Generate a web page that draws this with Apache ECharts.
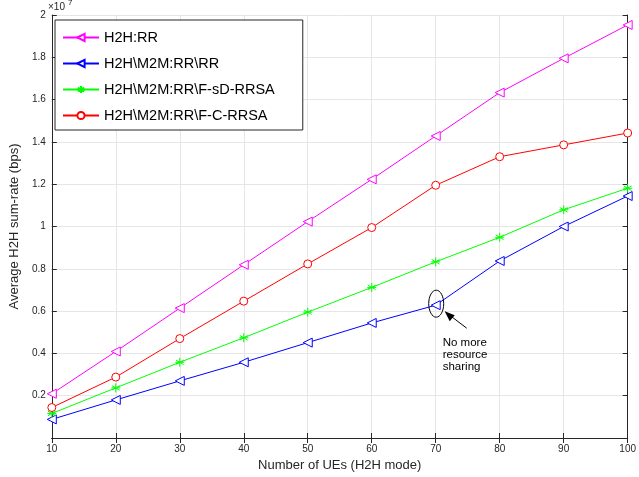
<!DOCTYPE html>
<html><head><meta charset="utf-8">
<script src="https://cdn.jsdelivr.net/npm/echarts@6/dist/echarts.min.js"></script>
<style>html,body{margin:0;padding:0;background:#fff}#c{width:639px;height:477px}</style>
</head><body><div id="c"></div>
<script>
const categories = [10,20,30,40,50,60,70,80,90,100];
const h2hRR = [0.209,0.409,0.614,0.819,1.023,1.223,1.428,1.633,1.795,1.953];
const m2mRR = [0.088,0.180,0.270,0.358,0.451,0.544,0.628,0.837,1.000,1.144];
const fsdRRSA = [0.116,0.237,0.358,0.474,0.595,0.712,0.833,0.949,1.079,1.181];
const fcRRSA = [0.144,0.288,0.470,0.647,0.823,0.995,1.195,1.330,1.386,1.442];
const yTicks = [0.2,0.4,0.6,0.8,1,1.2,1.4,1.6,1.8,2];
const seriesNames = ['H2H:RR','H2H\\M2M:RR\\RR','H2H\\M2M:RR\\F-sD-RRSA','H2H\\M2M:RR\\F-C-RRSA'];

const FONT = 'Liberation Sans, Arial, sans-serif';
const chart = echarts.init(document.getElementById('c'));
const pairs = a => a.map((v,i)=>[categories[i], v]);
const star = 'path://M0,-10L0,10M-8.66,-5L8.66,5M-8.66,5L8.66,-5M-10,0L10,0';
function mk(name, data, color, symbol, rot, size){
  return {name, type:'line', data:pairs(data), symbol, symbolRotate:rot, symbolSize:size,
    showAllSymbol:true, lineStyle:{color, width:1}, color,
    itemStyle:{color: symbol===star ? color : '#fff', borderColor:color, borderWidth:1},
    emphasis:{disabled:true}, animation:false, z:3};
}
const axisCommon = {axisLine:{show:true,lineStyle:{color:'#262626',width:1}},
  axisTick:{show:true,inside:true,length:5,lineStyle:{color:'#262626'}}};
chart.setOption({
  animation:false,
  textStyle:{fontFamily:FONT},
  grid:{left:48,right:5,top:15,bottom:32},
  legend:{left:55,top:20,orient:'vertical',itemWidth:36,itemHeight:9,itemGap:11,
    padding:[10,28,7,7],borderColor:'#262626',borderWidth:1,backgroundColor:'#fff',
    textStyle:{fontSize:14.5,lineHeight:14,color:'#000',fontFamily:FONT},data:seriesNames},
  xAxis:[{type:'value',min:10,max:100,interval:10,name:'Number of UEs (H2H mode)',
    nameLocation:'middle',nameGap:21,nameTextStyle:{fontSize:13,color:'#262626'},
    axisLabel:{fontSize:10,color:'#262626',margin:6},
    splitLine:{show:true,lineStyle:{color:'#e6e6e6'}},...axisCommon},
   {type:'value',position:'top',min:10,max:100,interval:10,axisLabel:{show:false},splitLine:{show:false},...axisCommon}],
  yAxis:[{type:'value',min:0,max:2,interval:0.2,name:'Average H2H sum-rate (bps)',
    nameLocation:'middle',nameGap:28,nameTextStyle:{fontSize:13,color:'#262626'},
    axisLabel:{fontSize:10,color:'#262626',margin:6,formatter:v=>{
      const t = yTicks.find(k=>Math.abs(k-v)<1e-6); return t===undefined?'':String(t);}},
    splitLine:{show:true,lineStyle:{color:'#e6e6e6'}},...axisCommon},
   {type:'value',position:'right',min:0,max:2,interval:0.2,axisLabel:{show:false},splitLine:{show:false},...axisCommon}],
  series:[
    mk(seriesNames[0],h2hRR,'#ff00ff','triangle',90,9),
    mk(seriesNames[1],m2mRR,'#0000ff','triangle',90,9),
    mk(seriesNames[2],fsdRRSA,'#00ff00',star,0,9),
    mk(seriesNames[3],fcRRSA,'#ff0000','circle',0,8)
  ]
});
const p = chart.convertToPixel({xAxisIndex:0,yAxisIndex:0},[70,m2mRR[6]]);
chart.setOption({graphic:[
  {type:'text',left:48,top:2,style:{text:'×10',fontSize:10,fill:'#262626',fontFamily:FONT}},
  {type:'text',left:68,top:-1,style:{text:'7',fontSize:8,fill:'#262626',fontFamily:FONT}},
  {type:'ellipse',shape:{cx:p[0]+0.5,cy:p[1]-1.5,rx:7.5,ry:13.5},style:{fill:'none',stroke:'#000',lineWidth:1},z:10},
  {type:'line',shape:{x1:p[0]+31,y1:p[1]+23,x2:p[0]+10,y2:p[1]+7},style:{stroke:'#000',lineWidth:1},z:10},
  {type:'polygon',shape:{points:[[p[0]+9,p[1]+6],[p[0]+19,p[1]+10],[p[0]+14,p[1]+16]]},style:{fill:'#000'},z:10},
  {type:'text',x:p[0]+7,y:p[1]+32,style:{text:'No more\nresource\nsharing',fontSize:11.5,lineHeight:12,fill:'#000',fontFamily:FONT},z:10}
]});
</script></body></html>
